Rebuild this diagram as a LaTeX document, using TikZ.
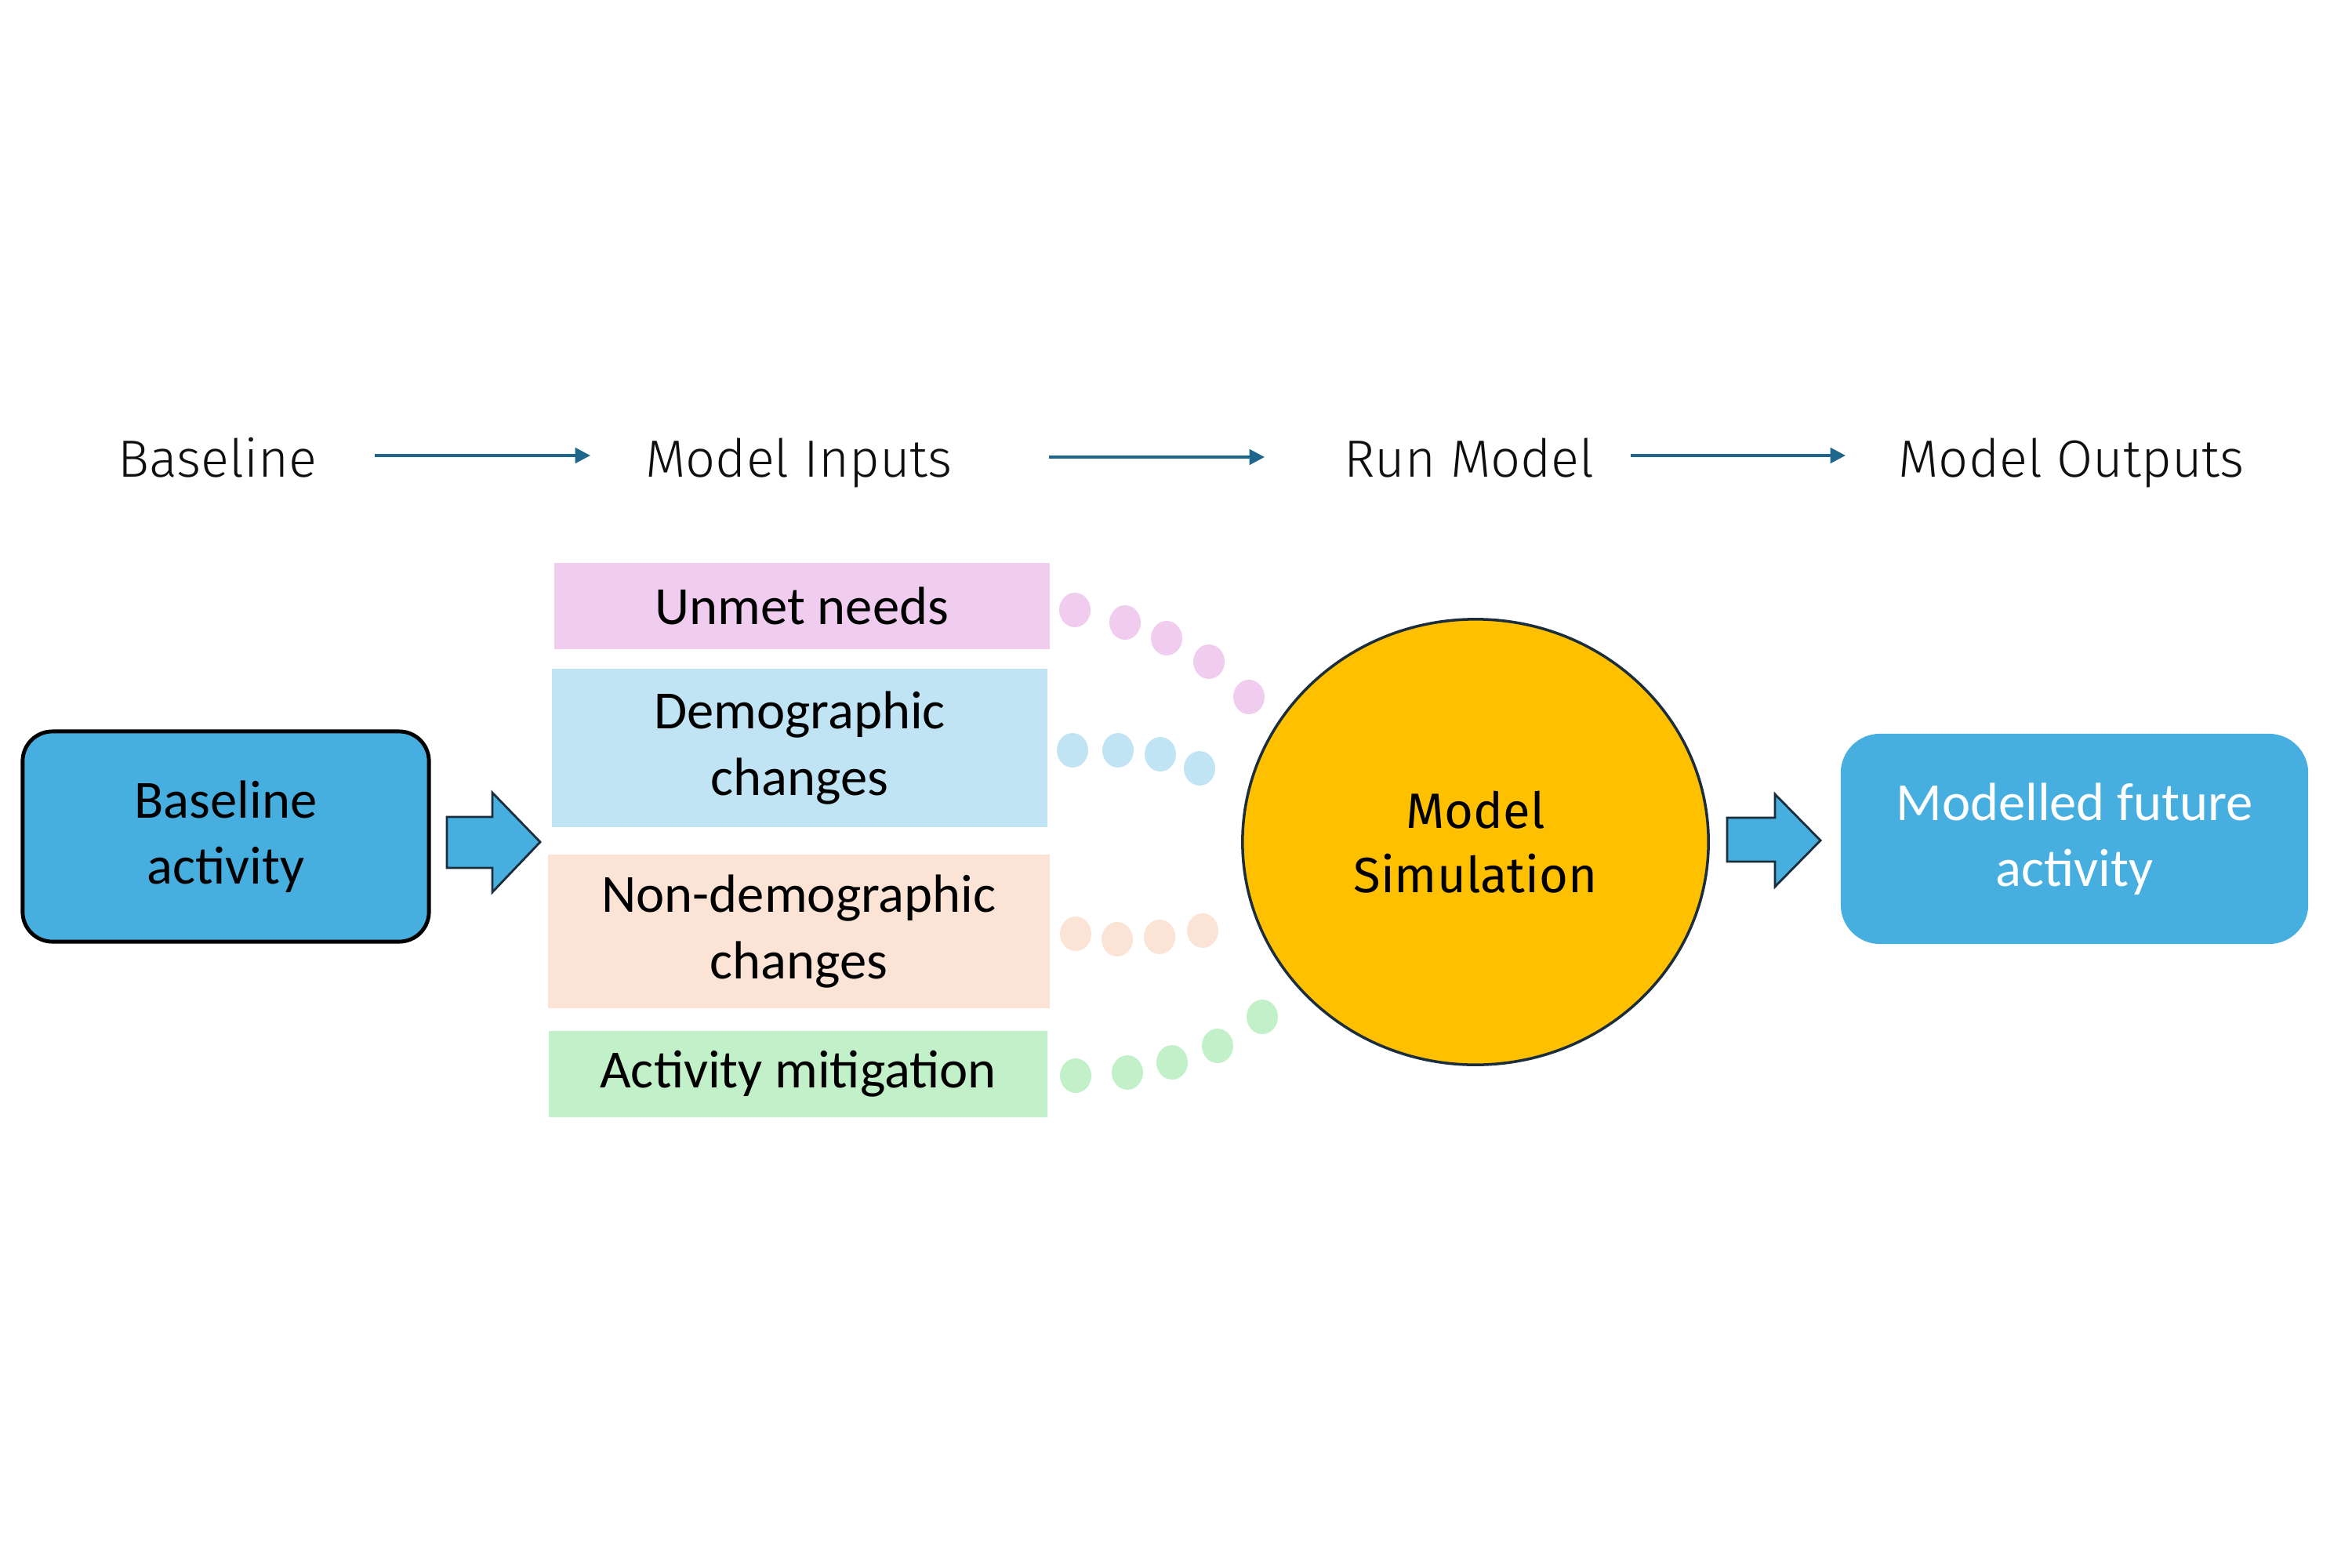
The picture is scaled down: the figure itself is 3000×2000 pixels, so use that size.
\documentclass[tikz,border=0pt]{standalone}
\usepackage{fontspec}
\setmainfont{Carlito}
\newfontfamily\hdrfont{Fira Sans Light}
\newfontfamily\simfont{Fira Sans}
\usetikzlibrary{arrows.meta,shapes.geometric}
\definecolor{hdrarrowc}{RGB}{30,102,140}
\definecolor{bluebox}{RGB}{71,175,224}
\definecolor{pinkc}{RGB}{240,205,238}
\definecolor{bluec}{RGB}{193,228,245}
\definecolor{peachc}{RGB}{251,227,214}
\definecolor{greenc}{RGB}{194,240,200}
\definecolor{goldc}{RGB}{255,192,0}
\definecolor{navyc}{RGB}{28,45,60}
\definecolor{hdrtext}{RGB}{15,15,15}
\begin{document}
\begin{tikzpicture}[x=0.01cm,y=-0.01cm,
  hdr/.style={font=\hdrfont\fontsize{19pt}{23pt}\selectfont, text=hdrtext, anchor=base, inner sep=0pt},
  hdrarrow/.style={draw=hdrarrowc, line width=1.1pt, -{Triangle[length=5.5pt,width=5.5pt]}},
  inbox/.style={rectangle, inner sep=0pt, align=center, font=\fontsize{19.5pt}{24pt}\selectfont, text=black},
  mainbox/.style={rectangle, rounded corners=0.38cm, fill=bluebox, inner sep=0pt, align=center, font=\fontsize{19.5pt}{24pt}\selectfont},
  blockarrow/.style={fill=bluebox, draw=navyc, line width=0.8pt, line join=miter},
]
\useasboundingbox (0,0) rectangle (3000,2000);

% header
\node[hdr] (hb) at (277,608) {Baseline};
\node[hdr] (hi) at (1019,608) {Model Inputs};
\node[hdr] (hr) at (1874,608) {Run Model};
\node[hdr] (ho) at (2642,608) {Model Outputs};
\coordinate (a1s) at (478,581); \coordinate (a1e) at (753,581);
\coordinate (a2s) at (1338,583); \coordinate (a2e) at (1613,583);
\coordinate (a3s) at (2080,581); \coordinate (a3e) at (2354,581);
\draw[hdrarrow] (a1s) -- (a1e);
\draw[hdrarrow] (a2s) -- (a2e);
\draw[hdrarrow] (a3s) -- (a3e);

% baseline box
\node[mainbox, draw=black, line width=1.4pt, minimum width=5.18cm, minimum height=2.68cm] (base) at (288,1067) {Baseline\\activity};

% block arrow 1
\draw[blockarrow] (570,1042) -- (628,1042) -- (628,1011) -- (689,1074) -- (628,1138) -- (628,1107) -- (570,1107) -- cycle;

% inputs
\node[inbox, fill=pinkc, minimum width=6.31cm, minimum height=1.09cm] (un) at (1023,773) {Unmet needs};
\node[inbox, fill=bluec, minimum width=6.31cm, minimum height=2.01cm] (de) at (1020,954) {Demographic\\changes};
\node[inbox, fill=peachc, minimum width=6.39cm, minimum height=1.95cm] (nd) at (1019,1188) {Non-demographic\\changes};
\node[inbox, fill=greenc, minimum width=6.36cm, minimum height=1.10cm] (am) at (1018,1370) {Activity mitigation};

% dots
\foreach \p in {(1371,778),(1435,794),(1488,814),(1542,844),(1593,889)}
  \fill[pinkc] \p ellipse [x radius=20, y radius=22];
\foreach \p in {(1368,957),(1426,957),(1480,962),(1530,980)}
  \fill[bluec] \p ellipse [x radius=20, y radius=22];
\foreach \p in {(1372,1191),(1425,1198),(1479,1195),(1534,1187)}
  \fill[peachc] \p ellipse [x radius=20, y radius=22];
\foreach \p in {(1372,1372),(1438,1368),(1495,1355),(1553,1334),(1610,1297)}
  \fill[greenc] \p ellipse [x radius=20, y radius=22];

% circle
\node[ellipse, fill=goldc, draw=navyc, line width=1pt, minimum width=5.94cm, minimum height=5.68cm, inner sep=0pt, align=center, font=\simfont\fontsize{18pt}{23.5pt}\selectfont] (sim) at (1882,1074) {Model\\Simulation};

% block arrow 2
\draw[blockarrow] (2203,1043) -- (2264,1043) -- (2264,1013) -- (2322,1072) -- (2264,1131) -- (2264,1099) -- (2203,1099) -- cycle;

% output
\node[mainbox, rounded corners=0.5cm, text=white, minimum width=5.96cm, minimum height=2.68cm] (out) at (2646,1070) {Modelled future\\activity};
\end{tikzpicture}
\end{document}
